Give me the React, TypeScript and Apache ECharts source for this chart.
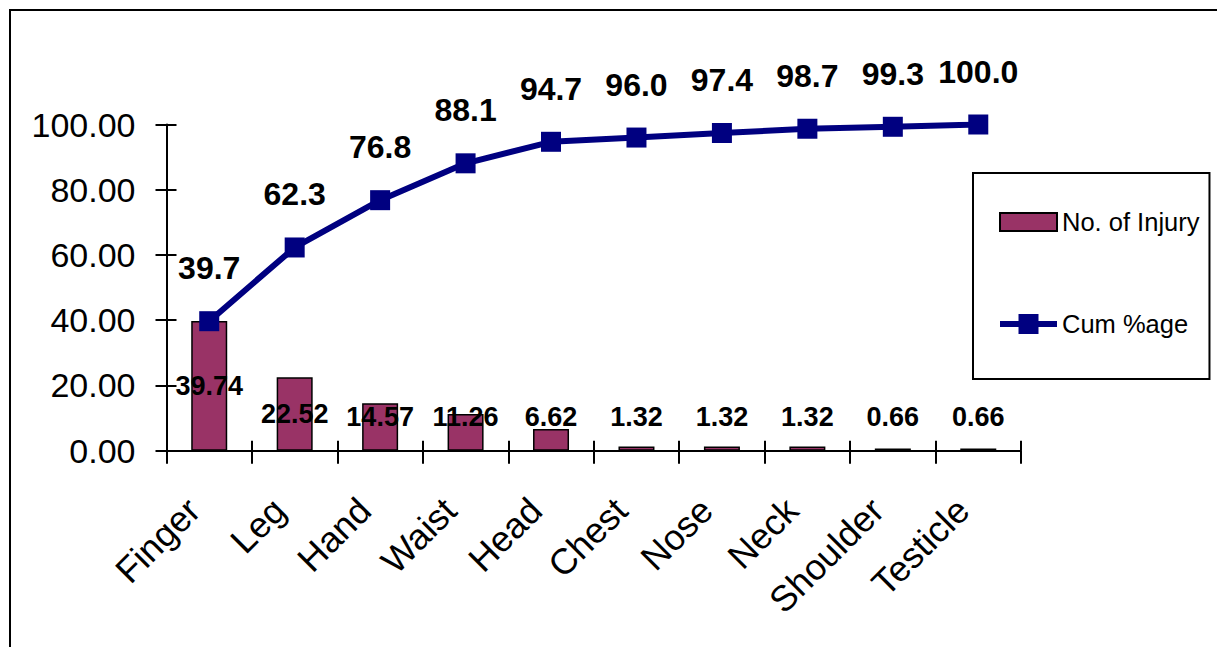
import React, { useEffect, useRef } from "react";
import * as echarts from "echarts";

// Body parts, ordered by number of injuries (Pareto order)
const categories = ["Finger", "Leg", "Hand", "Waist", "Head", "Chest", "Nose", "Neck", "Shoulder", "Testicle"];
// Share of injuries per body part (%)
const injuryShare = [39.74, 22.52, 14.57, 11.26, 6.62, 1.32, 1.32, 1.32, 0.66, 0.66];
// Cumulative percentage
const cumulativePct = [39.7, 62.3, 76.8, 88.1, 94.7, 96.0, 97.4, 98.7, 99.3, 100.0];
// Value axis ticks
const yTicks = [0, 20, 40, 60, 80, 100];

const SANS = "'Liberation Sans', Arial, sans-serif";

export default function App() {
  const ref = useRef<HTMLDivElement>(null);

  useEffect(() => {
    if (!ref.current) return;
    const chart = echarts.init(ref.current, null, { renderer: "svg" });
    const yMin = yTicks[0];
    const yMax = yTicks[yTicks.length - 1];
    const yStep = yTicks[1] - yTicks[0];

    chart.setOption({
      animation: false,
      backgroundColor: "#ffffff",
      graphic: [
        {
          type: "rect",
          shape: { x: 10, y: 10, width: 1230, height: 660 },
          style: { fill: "none", stroke: "#000", lineWidth: 2 },
          z: 0,
        },
      ],
      grid: { left: 166.5, right: 196, top: 124.5, bottom: 196.3, containLabel: false },
      legend: {
        orient: "vertical",
        left: 973,
        top: 173,
        padding: [36, 10, 42, 24],
        itemGap: 76,
        itemWidth: 57,
        itemHeight: 25,
        borderColor: "#000",
        borderWidth: 2,
        textStyle: { fontFamily: SANS, fontSize: 25.5, color: "#000" },
        data: [
          { name: "No. of Injury", icon: "path://M0,0H57V18H0Z" },
          { name: "Cum %age", lineStyle: { width: 6, color: "#000080" } },
        ],
      },
      xAxis: [
        {
          type: "category",
          data: categories,
          position: "bottom",
          axisLine: { show: true, lineStyle: { color: "#000", width: 2 } },
          axisTick: { show: true, length: 13, lineStyle: { color: "#000", width: 2 } },
          axisLabel: {
            rotate: 45,
            margin: 38,
            padding: [0, 22, 0, 0],
            color: "#000",
            fontFamily: SANS,
            fontSize: 36,
            interval: 0,
          },
        },
        {
          type: "category",
          data: categories,
          position: "bottom",
          axisLine: { show: false },
          axisTick: { show: true, inside: true, length: 10, lineStyle: { color: "#000", width: 2 } },
          axisLabel: { show: false },
        },
      ],
      yAxis: [
        {
          type: "value",
          min: yMin,
          max: yMax,
          interval: yStep,
          splitLine: { show: false },
          axisLine: { show: true, lineStyle: { color: "#000", width: 2 } },
          axisTick: { show: true, length: 11, lineStyle: { color: "#000", width: 2 } },
          axisLabel: {
            margin: 31,
            color: "#000",
            fontFamily: SANS,
            fontSize: 34,
            formatter: (v: number) => v.toFixed(2),
          },
        },
        {
          type: "value",
          min: yMin,
          max: yMax,
          interval: yStep,
          position: "left",
          splitLine: { show: false },
          axisLine: { show: false },
          axisTick: { show: true, inside: true, length: 10, lineStyle: { color: "#000", width: 2 } },
          axisLabel: { show: false },
        },
      ],
      series: [
        {
          name: "No. of Injury",
          type: "bar",
          data: injuryShare,
          barWidth: 36,
          itemStyle: { color: "#993366", borderColor: "#000", borderWidth: 1.5 },
          label: {
            show: true,
            position: "inside",
            color: "#000",
            fontFamily: SANS,
            fontWeight: "bold",
            fontSize: 27,
            formatter: (p: any) => Number(p.value).toFixed(2),
          },
          // keep labels of short bars clear of the category axis
          labelLayout: (p: any) => ({ dy: Math.min(0, p.rect.height / 2 - 34) }),
          z: 2,
        },
        {
          name: "Cum %age",
          type: "line",
          data: cumulativePct,
          symbol: "rect",
          symbolSize: 20,
          lineStyle: { color: "#000080", width: 6 },
          itemStyle: { color: "#000080" },
          label: {
            show: true,
            position: "top",
            distance: 27,
            color: "#000",
            fontFamily: SANS,
            fontWeight: "bold",
            fontSize: 32,
            formatter: (p: any) => Number(p.value).toFixed(1),
          },
          z: 3,
        },
      ],
    });

    return () => chart.dispose();
  }, []);

  return (
    <div
      ref={ref}
      style={{ position: "fixed", left: 0, top: 0, width: 1217, height: 647, background: "#fff" }}
    />
  );
}
